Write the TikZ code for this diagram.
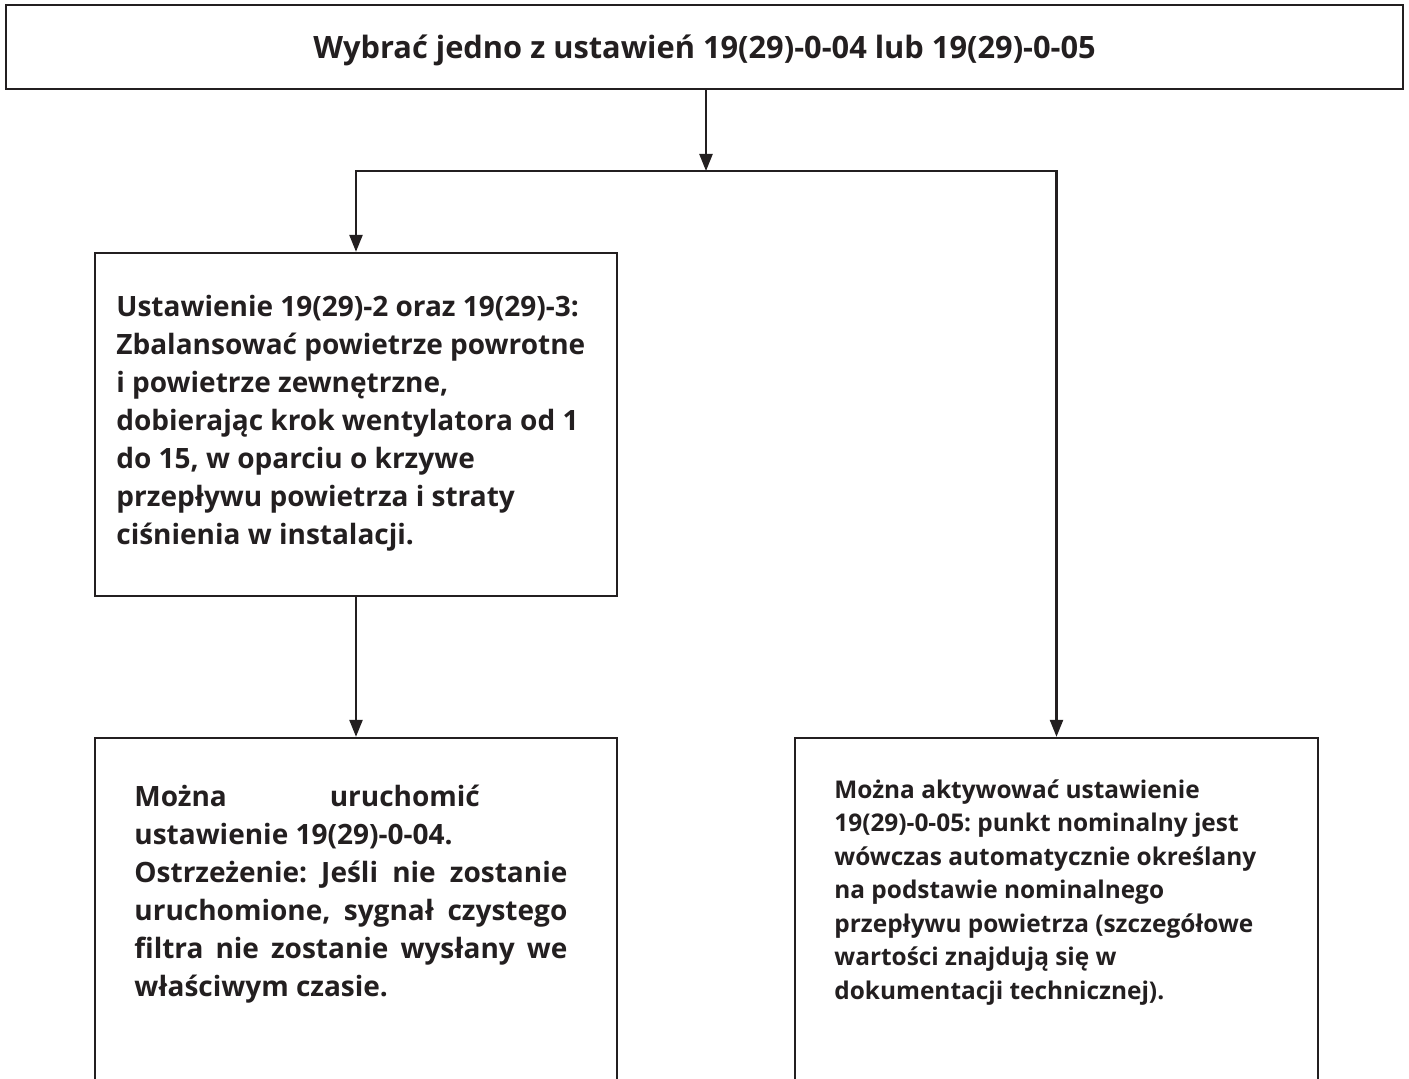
\documentclass[tikz,border=0pt]{standalone}
\usepackage{fontspec}
\setmainfont{Open Sans}
\frenchspacing
\usetikzlibrary{arrows.meta}

\definecolor{ink}{RGB}{35,31,32}
\tikzset{
  box/.style={draw=ink, line width=1.15pt, inner sep=0pt},
  arr/.style={draw=ink, line width=1.15pt, -{Triangle[length=8.5pt,width=6.5pt]}},
  twoarr/.style={draw=ink, line width=1.15pt, {Triangle[length=8.5pt,width=6.5pt]}-{Triangle[length=8.5pt,width=6.5pt]}},
  txt/.style={text=ink, inner sep=0pt, anchor=north west},
  bigtxt/.style={txt, font=\fontsize{14}{19}\bfseries\selectfont}
}

\begin{document}
\begin{tikzpicture}[x=0.5pt,y=-0.5pt]
    \useasboundingbox (0,0) rectangle (1409,1079);
    \clip (0,0) rectangle (1409,1079);
    % boxes
    \node[box, minimum width=698.5pt, minimum height=42pt, text=ink, text depth=0pt,
      font=\fontsize{15.4}{18}\bfseries\selectfont] (choose) at (704.5,47)
      {Wybrać jedno z ustawień 19(29)-0-04 lub 19(29)-0-05};
    \node[box, minimum width=261pt, minimum height=171.5pt] (setbox) at (356,424.5) {};
    \node[box, minimum width=261pt, minimum height=200pt] (runbox) at (356,938) {};
    \node[box, minimum width=261.5pt, minimum height=200pt] (autobox) at (1056.5,938) {};
    % texts
    \node[bigtxt, align=left] (settxt) at (116,295)
      {Ustawienie 19(29)-2 oraz 19(29)-3:\\
       Zbalansować powietrze powrotne\\
       i powietrze zewnętrzne,\\
       dobierając krok wentylatora od 1\\
       do 15, w oparciu o krzywe\\
       przepływu powietrza i straty\\
       ciśnienia w instalacji.};
    \node[bigtxt, align=justify, text width=216.5pt] (runtxt) at (134,785)
      {Można\hspace{51.5pt}uruchomić\\
       ustawienie 19(29)-0-04.\\
       Ostrzeżenie: Jeśli nie zostanie\linebreak
       uruchomione, sygnał czystego\linebreak
       filtra nie zostanie wysłany we\linebreak
       właściwym czasie.};
    \node[txt, align=left, font=\fontsize{12.2}{16.75}\bfseries\selectfont] (autotxt) at (834,779)
      {Można aktywować ustawienie\\
       19(29)-0-05: punkt nominalny jest\\
       wówczas automatycznie określany\\
       na podstawie nominalnego\\
       przepływu powietrza (szczegółowe\\
       wartości znajdują się w\\
       dokumentacji technicznej).};
    % connectors
    \coordinate (split) at (706,171);
    \draw[arr] (choose.south -| split) -- (split);
    \draw[twoarr] (setbox.north) -- (setbox.north |- split) -- (autobox.north |- split) -- (autobox.north);
    \draw[arr] (setbox.south) -- (runbox.north);
\end{tikzpicture}
\end{document}
